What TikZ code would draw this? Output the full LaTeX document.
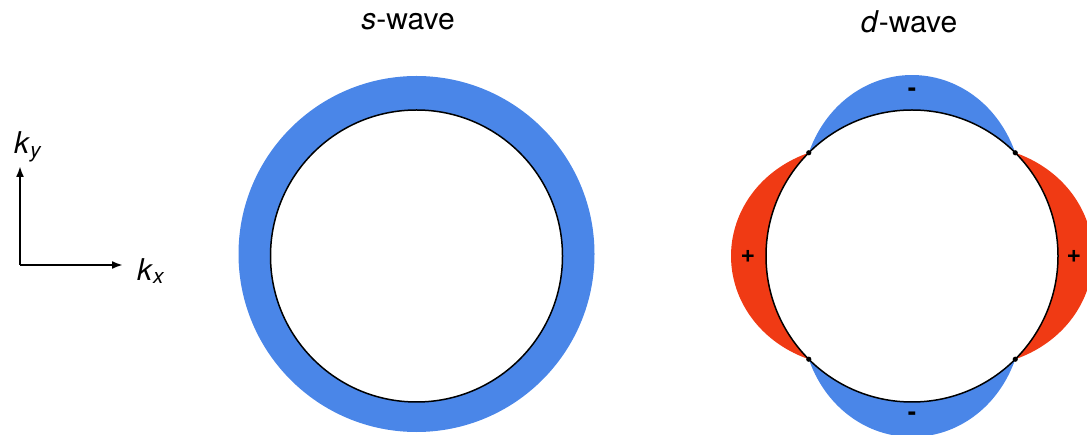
\documentclass[tikz,border=0pt]{standalone}
\usepackage{fontspec}
\setmainfont{TeX Gyre Heros}
\usetikzlibrary{arrows.meta}
\definecolor{gapblue}{RGB}{74,134,232}
\definecolor{gapred}{RGB}{240,58,20}
\begin{document}
\begin{tikzpicture}[x=1pt, y=-1pt, font=\fontsize{30}{34}\selectfont]
    \useasboundingbox (0,0) rectangle (1087,435);

    % Assen k_x en k_y
    \coordinate (origin) at (20,265);
    \coordinate (xtip) at (123,265);
    \coordinate (ytip) at (20,166);
    \draw[line width=2pt, -{Latex[length=11pt,width=8pt]}] (origin) -- (xtip);
    \draw[line width=2pt, -{Latex[length=11pt,width=8pt]}] (origin) -- (ytip);
    \node (kx) at (151,271) {\textit{k}\textsubscript{\textit{x}}};
    \node (ky) at (28,147) {\textit{k}\textsubscript{\textit{y}}};

    % s-golf: gelijkmatige blauwe ring
    \node (stitle) at (408,22) {\textit{s}-wave};
    \fill[gapblue] (416.5,254) circle (178);
    \draw[line width=1.5pt, fill=white] (416.5,256) circle (146);

    % d-golf: lobben r = R + A|cos 2t|, rood voor + en blauw voor -
    \node (dtitle) at (909,22) {\textit{d}-wave};
    \foreach \start/\kleur in {-45/gapred, 45/gapblue, 135/gapred, 225/gapblue} {
        \fill[\kleur] plot[domain=\start:\start+90, samples=80, smooth]
            ({912+(146+35*abs(cos(2*\x)))*cos(\x)}, {256+(146+35*abs(cos(2*\x)))*sin(\x)}) -- cycle;
    }
    \draw[line width=1.5pt, fill=white] (912,256) circle (146);

    % Knooppunten van de gap op 45 graden
    \foreach \hoek in {45,135,225,315} {
        \fill (912,256) ++(\hoek:146) circle (2.6);
    }

    % Tekens van de lobben
    \foreach \naam/\pos/\teken in {top/{(912,92)}/-, bot/{(912,416)}/-, lft/{(748,256)}/+, rgt/{(1074,256)}/+} {
        \node[font=\fontsize{25}{27}\selectfont\bfseries] (sign\naam) at \pos {\teken};
    }
\end{tikzpicture}
\end{document}
